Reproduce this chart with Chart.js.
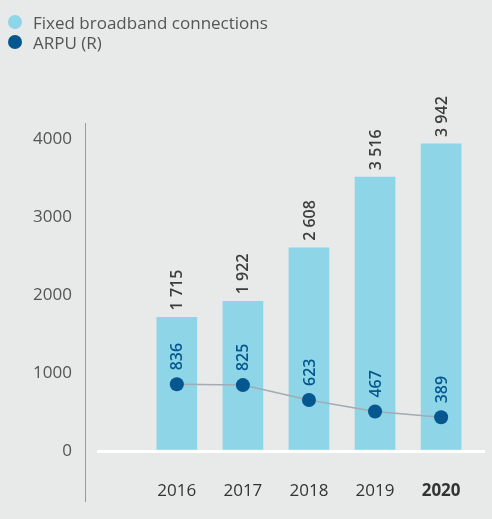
<!DOCTYPE html>
<html>
<head>
<meta charset="utf-8">
<script src="https://cdn.jsdelivr.net/npm/chart.js@4/dist/chart.umd.min.js"></script>
<style>
    html, body { margin: 0; padding: 0; background: #e8e9e9; }
    #wrap { position: relative; width: 492px; height: 519px; }
    #legend { position: absolute; left: 8px; top: 12px; font-family: "Open Sans", sans-serif; font-size: 17px; color: #555; }
    #legend div { display: flex; align-items: center; height: 20px; }
    #legend span.dot { display: inline-block; width: 14px; height: 14px; border-radius: 50%; margin-right: 11px; }
</style>
</head>
<body>
<div id="wrap">
    <canvas id="chart" width="492" height="519"></canvas>
    <div id="legend"></div>
</div>
<script>
// chart data
const years = [2016, 2017, 2018, 2019, 2020];
const connections = [1715, 1922, 2608, 3516, 3942];
const arpu = [836, 825, 623, 467, 389];
const yTicks = [0, 1000, 2000, 3000, 4000];

const barColor = "#8dd5e7";
const dotColor = "#04578f";
const font = "Open Sans";

// legend drawn as html
const legendItems = [
    { text: "Fixed broadband connections", color: barColor },
    { text: "ARPU (R)", color: dotColor }
];
document.getElementById("legend").innerHTML = legendItems
    .map(l => `<div><span class="dot" style="background:${l.color}"></span>${l.text}</div>`)
    .join("");

function fmt(v) {
    return String(v).replace(/\B(?=(\d{3})+(?!\d))/g, " ");
}

// rotated value labels above bars and dots
const valueLabels = {
    id: "valueLabels",
    afterDatasetsDraw(chart) {
        const ctx = chart.ctx;
        chart.data.datasets.forEach((ds, i) => {
            const meta = chart.getDatasetMeta(i);
            const isBar = ds.type === "bar";
            meta.data.forEach((el, j) => {
                ctx.save();
                ctx.translate(el.x, el.y - (isBar ? 7 : 14));
                ctx.rotate(-Math.PI / 2);
                ctx.textAlign = "left";
                ctx.textBaseline = "middle";
                ctx.fillStyle = isBar ? "#3d3d3d" : dotColor;
                ctx.font = `600 16px "${font}"`;
                ctx.fillText(fmt(ds.data[j].y), 0, 1);
                ctx.restore();
            });
        });
    }
};

new Chart(document.getElementById("chart"), {
    data: {
        datasets: [
            {
                type: "bar",
                label: "Fixed broadband connections",
                data: years.map((y, i) => ({ x: y, y: connections[i] })),
                backgroundColor: barColor,
                barThickness: 40,
                yAxisID: "y",
                order: 2
            },
            {
                type: "line",
                label: "ARPU (R)",
                data: years.map((y, i) => ({ x: y, y: arpu[i] })),
                borderColor: "#a3abb3",
                borderWidth: 1.5,
                pointRadius: 7,
                pointBackgroundColor: dotColor,
                pointBorderWidth: 0,
                yAxisID: "y2",
                order: 1
            }
        ]
    },
    options: {
        responsive: false,
        animation: false,
        layout: { padding: { top: 123, bottom: 19, left: 0, right: 0 } },
        plugins: {
            legend: { display: false },
            tooltip: { enabled: false }
        },
        scales: {
            x: {
                type: "linear",
                offset: false,
                position: { y: -350 },
                afterBuildTicks: s => {
                    s.ticks = years.map(v => ({ value: v }));
                    s.min = 2014.777;
                    s.max = 2020.664;
                },
                afterFit: s => { s.paddingLeft = 0; s.paddingRight = 0; },
                grid: { display: false, drawTicks: false, offset: false },
                border: { display: false },
                ticks: {
                    padding: 3,
                    color: "#333",
                    maxRotation: 0,
                    callback: v => String(v),
                    font: c => ({ family: font, size: 17, weight: c.tick && c.tick.value === 2020 ? "bold" : "normal" })
                }
            },
            y: {
                type: "linear",
                position: "left",
                weight: 1,
                afterBuildTicks: s => {
                    s.ticks = yTicks.map(v => ({ value: v }));
                    s.min = -629;
                    s.max = 4211;
                },
                afterFit: s => { s.width = 85; s.paddingTop = 0; s.paddingBottom = 0; },
                grid: {
                    drawTicks: false,
                    lineWidth: 3,
                    color: c => (c.tick && c.tick.value === 0 ? "#ffffff" : "rgba(0,0,0,0)")
                },
                border: { display: true, color: "#9a9a9a", width: 1 },
                ticks: {
                    padding: 13,
                    color: "#555",
                    font: { family: font, size: 17 },
                    callback: v => String(v)
                }
            },
            yGap: {
                type: "linear",
                position: "left",
                weight: 0,
                afterFit: s => { s.width = 11; s.paddingTop = 0; s.paddingBottom = 0; },
                grid: { display: false },
                border: { display: false },
                ticks: { display: false }
            },
            y2: {
                type: "linear",
                display: false,
                afterBuildTicks: s => {
                    s.min = -732;
                    s.max = 4377;
                }
            }
        }
    },
    plugins: [valueLabels]
});
</script>
</body>
</html>
